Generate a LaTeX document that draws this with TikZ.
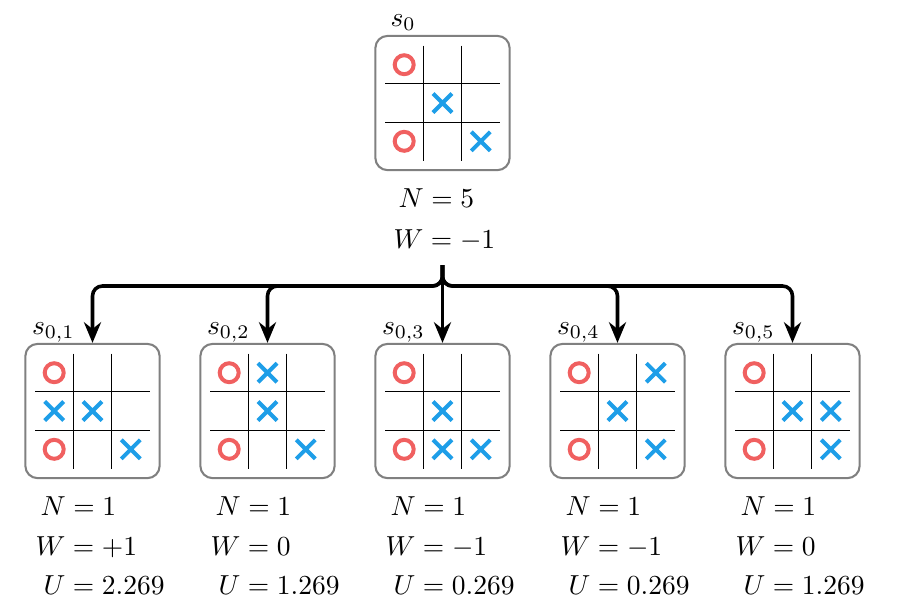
\documentclass[tikz,border=0pt]{standalone}
\usepackage{amsmath,amssymb}
\usetikzlibrary{positioning,arrows.meta}

\definecolor{ored}{RGB}{240,96,96}
\definecolor{xblue}{RGB}{30,158,232}

% one tic-tac-toe board: name, centre, O cells, X cells
\newcommand{\tttboard}[4]{%
  \node[board] (#1) at (#2) {};
  \begin{scope}[shift={(#1.center)}]
    \draw[gridline] (-19.2,-57.5) -- (-19.2,57.5) (19.2,-57.5) -- (19.2,57.5)
                    (-57.5,-19.2) -- (57.5,-19.2) (-57.5,19.2) -- (57.5,19.2);
    \foreach \c/\r in {#3}
      \draw[omark] (38.3*\c,38.3*\r) circle[radius=3.45pt];
    \foreach \c/\r in {#4}
      \draw[xmark] (38.3*\c-9.5,38.3*\r-9.5) -- ++(19,19)
                   (38.3*\c-9.5,38.3*\r+9.5) -- ++(19,-19);
  \end{scope}}

\begin{document}
\begin{tikzpicture}[
          x=0.3636pt, y=-0.3636pt,
          >={Stealth[length=7.5pt,width=6.2pt]},
          board/.style={draw=gray, line width=0.75pt, rounded corners=4.4pt,
                        minimum width=48.8pt, minimum height=48.8pt, inner sep=0pt},
          gridline/.style={line width=0.45pt},
          omark/.style={draw=ored, line width=1.45pt},
          xmark/.style={draw=xblue, line width=1.45pt},
          link/.style={->, line width=1.3pt, rounded corners=3.6pt},
          lbl/.style={anchor=base west, inner sep=0pt}
        ]
        \useasboundingbox (0,0) rectangle (899,613);

        % root
        \tttboard{s0}{442.5,103}{-1/-1,-1/1}{0/0,1/1}
        \node[lbl] (s0-name) at (390,26) {$s_0$};
        \node[lbl] (s0-N) at (398,207) {$N=5$};
        \node[lbl] (s0-W) at (393,248) {$W=-1$};

        % children
        \tttboard{c1}{92.5,411}{-1/-1,-1/1}{-1/0,0/0,1/1}
        \tttboard{c2}{267.5,411}{-1/-1,-1/1}{0/-1,0/0,1/1}
        \tttboard{c3}{442.5,411}{-1/-1,-1/1}{0/0,0/1,1/1}
        \tttboard{c4}{617.5,411}{-1/-1,-1/1}{1/-1,0/0,1/1}
        \tttboard{c5}{792.5,411}{-1/-1,-1/1}{0/0,1/0,1/1}

        \foreach \i/\w/\u [count=\k from 0] in {+1/2.269, 0/1.269, -1/0.269, -1/0.269, 0/1.269} {
          \node[lbl] (c\k-name) at (31.5+175*\k,334) {$s_{0,\the\numexpr\k+1\relax}$};
          \node[lbl] (c\k-N) at (40+175*\k,515) {$N=1$};
          \node[lbl] (c\k-W) at (35+175*\k,555) {$W=\i$};
          \node[lbl] (c\k-U) at (43+175*\k,594) {$U=\w$};
        }

        % edges
        \coordinate (fork) at (442.5,265);
        \coordinate (bar) at (442.5,286);
        \foreach \c in {c1,c2,c4,c5}
          \draw[link] (fork) -- (bar) -| (\c.north);
        \draw[link] (fork) -- (c3.north);
      \end{tikzpicture}
\end{document}
